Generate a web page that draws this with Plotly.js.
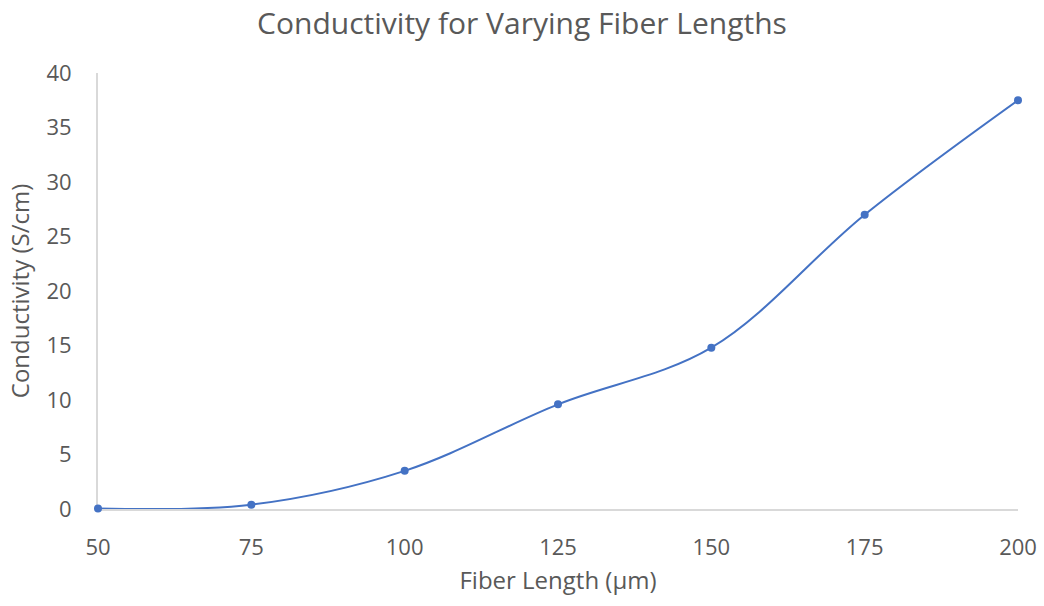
<!DOCTYPE html>
<html>
<head>
<meta charset="utf-8">
<script src="https://cdn.plot.ly/plotly-3.0.1.min.js"></script>
<style>html,body{margin:0;padding:0;background:#fff;}#chart{width:1044px;height:606px;}</style>
</head>
<body>
<div id="chart"></div>
<script>
const fiberLength = [50, 75, 100, 125, 150, 175, 200];
const conductivity = [0.05, 0.4, 3.5, 9.6, 14.8, 27.0, 37.5];
const xTicks = [50, 75, 100, 125, 150, 175, 200];
const yTicks = [0, 5, 10, 15, 20, 25, 30, 35, 40];

const trace = {
  x: fiberLength,
  y: conductivity,
  type: 'scatter',
  mode: 'lines+markers',
  line: {color: '#4472C4', width: 2, shape: 'spline', smoothing: 1},
  marker: {color: '#4472C4', size: 8},
  cliponaxis: false,
  hoverinfo: 'x+y'
};

const font = 'Open Sans, Liberation Sans, sans-serif';
const layout = {
  width: 1044, height: 606,
  margin: {l: 98, r: 26, t: 73, b: 97},
  paper_bgcolor: '#fff', plot_bgcolor: '#fff',
  showlegend: false,
  font: {family: font, color: '#595959', size: 22},
  title: {text: 'Conductivity for Varying Fiber Lengths', font: {family: font, size: 30, color: '#595959'}, x: 0.5, xanchor: 'center', y: 0.962, yanchor: 'middle'},
  xaxis: {
    range: [50, 200], tickvals: xTicks, ticktext: xTicks.map(String),
    showgrid: false, zeroline: false, showline: true, linecolor: '#D9D9D9', linewidth: 2,
    ticks: '', ticklabelstandoff: 18, layer: 'below traces',
    title: {text: 'Fiber Length (µm)', font: {family: font, size: 24, color: '#595959'}, standoff: 12}
  },
  yaxis: {
    range: [0, 40], tickvals: yTicks, ticktext: yTicks.map(String),
    showgrid: false, zeroline: false, showline: true, linecolor: '#D9D9D9', linewidth: 2,
    ticks: '', ticklabelstandoff: 20, layer: 'below traces',
    title: {text: 'Conductivity (S/cm)', font: {family: font, size: 24, color: '#595959'}, standoff: 10}
  }
};

Plotly.newPlot('chart', [trace], layout, {displayModeBar: false, staticPlot: true});
</script>
</body>
</html>
